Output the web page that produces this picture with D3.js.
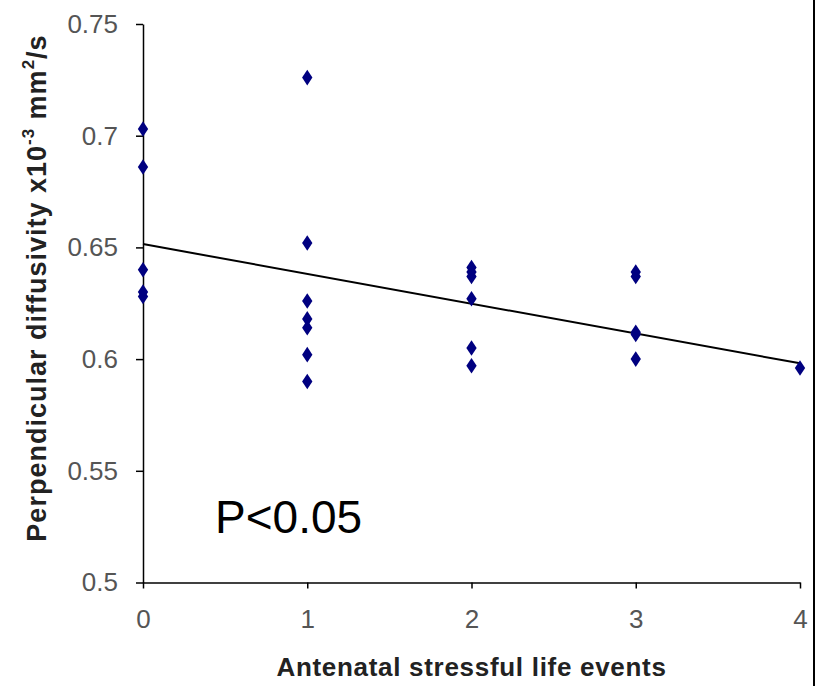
<!DOCTYPE html>
<html>
<head>
<meta charset="utf-8">
<script src="https://cdn.jsdelivr.net/npm/d3@7"></script>
<style>
  body { margin: 0; background: #fff; }
  svg { display: block; font-family: "Liberation Sans", Arial, sans-serif; }
</style>
</head>
<body>
<div id="chart"></div>
<script>
// data
var events = [0, 0, 0, 0, 0,
  1, 1, 1, 1, 1, 1, 1,
  2, 2, 2, 2, 2, 2,
  3, 3, 3, 3, 3,
  4];
var diffusivity = [0.703, 0.686, 0.640, 0.630, 0.628,
  0.726, 0.652, 0.626, 0.618, 0.614, 0.602, 0.590,
  0.641, 0.639, 0.637, 0.627, 0.605, 0.597,
  0.639, 0.637, 0.612, 0.611, 0.600,
  0.596];
var trendX = [0, 4];
var trendY = [0.6515, 0.5981];
var xTicks = [0, 1, 2, 3, 4];
var yTicks = [0.5, 0.55, 0.6, 0.65, 0.7, 0.75];

var width = 817, height = 686;
var margin = {top: 24, right: 17, bottom: 103.5, left: 143};

var svg = d3.select("#chart").append("svg")
  .attr("width", width)
  .attr("height", height);

var x = d3.scaleLinear().domain([0, 4]).range([margin.left, width - margin.right]);
var y = d3.scaleLinear().domain([0.5, 0.75]).range([height - margin.bottom, margin.top]);

//axes
var xAxis = d3.axisBottom(x)
  .tickValues(xTicks)
  .tickFormat(d3.format("d"))
  .tickSizeInner(6)
  .tickSizeOuter(0)
  .tickPadding(21);
var yAxis = d3.axisLeft(y)
  .tickValues(yTicks)
  .tickFormat(function(d) { return String(d); })
  .tickSizeInner(7)
  .tickSizeOuter(0)
  .tickPadding(18);

var gx = svg.append("g")
  .attr("transform", "translate(0," + y(0.5) + ")")
  .call(xAxis);
var gy = svg.append("g")
  .attr("transform", "translate(" + x(0) + ",0)")
  .call(yAxis);

[gx, gy].forEach(function(g) {
  g.select(".domain").attr("stroke", "#000").attr("stroke-width", 1.5);
  g.selectAll(".tick line").attr("stroke", "#000").attr("stroke-width", 1.5);
  g.selectAll(".tick text")
    .attr("fill", "#555")
    .style("font-size", "26px")
    .style("font-family", "'Liberation Sans', Arial, sans-serif");
});

// trend line
svg.append("line")
  .attr("x1", x(trendX[0])).attr("y1", y(trendY[0]))
  .attr("x2", x(trendX[1])).attr("y2", y(trendY[1]))
  .attr("stroke", "#000")
  .attr("stroke-width", 2);

// points
var diamond = d3.symbol().type(d3.symbolDiamond).size(70);
svg.append("g").selectAll("path")
  .data(events)
  .enter().append("path")
  .attr("d", diamond)
  .attr("transform", function(d, i) { return "translate(" + x(d) + "," + y(diffusivity[i]) + ") scale(1.15,1)"; })
  .attr("fill", "#000080");

// axis titles
svg.append("text")
  .attr("x", (x(0) + x(4)) / 2)
  .attr("y", 676)
  .attr("text-anchor", "middle")
  .style("font-size", "26px")
  .style("font-weight", "bold")
  .style("letter-spacing", "0.7px")
  .attr("fill", "#222")
  .text("Antenatal stressful life events");

var yl = svg.append("text")
  .attr("transform", "translate(46," + 288 + ") rotate(-90)")
  .attr("text-anchor", "middle")
  .style("font-size", "27px")
  .style("font-weight", "bold")
  .style("letter-spacing", "1px")
  .attr("fill", "#222");
yl.append("tspan").text("Perpendicular diffusivity x10");
yl.append("tspan").attr("dy", -12).style("font-size", "17px").text("-3");
yl.append("tspan").attr("dy", 12).text(" mm");
yl.append("tspan").attr("dy", -12).style("font-size", "17px").text("2");
yl.append("tspan").attr("dy", 12).text("/s");

// annotation
svg.append("text")
  .attr("x", 215)
  .attr("y", 533)
  .style("font-size", "46px")
  .attr("fill", "#000")
  .text("P<0.05");

// right border line
svg.append("line")
  .attr("x1", 814).attr("x2", 814)
  .attr("y1", 0).attr("y2", height)
  .attr("stroke", "#000")
  .attr("stroke-width", 2);
</script>
</body>
</html>
